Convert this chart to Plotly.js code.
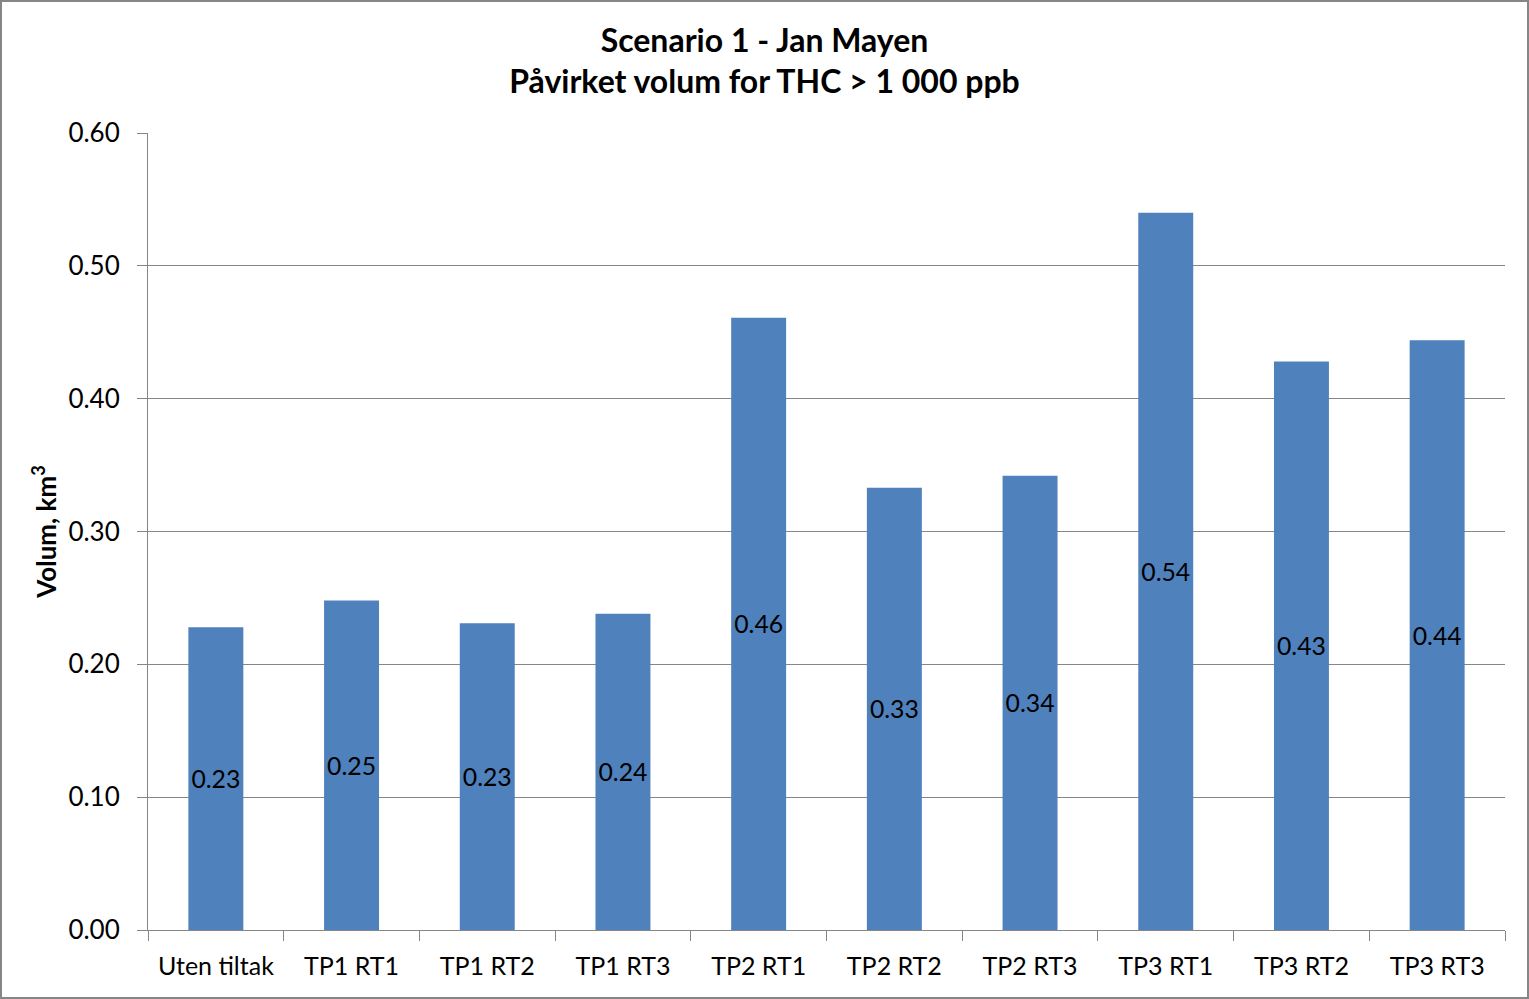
<!DOCTYPE html>
<html>
<head>
<meta charset="utf-8">
<script src="https://cdn.plot.ly/plotly-3.0.1.min.js"></script>
<style>
  body { margin: 0; background: #fff; }
  #chart { width: 1525px; height: 995px; border: 2px solid #868686; }
</style>
</head>
<body>
<div id="chart"></div>
<script>
const categories = ["Uten tiltak", "TP1 RT1", "TP1 RT2", "TP1 RT3", "TP2 RT1",
                    "TP2 RT2", "TP2 RT3", "TP3 RT1", "TP3 RT2", "TP3 RT3"];
const volumes = [0.228, 0.248, 0.231, 0.238, 0.461, 0.333, 0.342, 0.540, 0.428, 0.444];
const y_ticks = [0, 0.1, 0.2, 0.3, 0.4, 0.5, 0.6];

const font_name = "Lato, 'Open Sans', sans-serif";

Plotly.newPlot("chart", [
    {
        type: "bar",
        x: categories,
        y: volumes,
        marker: { color: "#4F81BD" },
        text: volumes.map((v) => v.toFixed(2)),
        textposition: "inside",
        insidetextanchor: "middle",
        textangle: 0,
        textfont: { family: font_name, size: 26, color: "#000" },
        hoverinfo: "none",
    },
], {
    width: 1525,
    height: 995,
    margin: { l: 146, r: 22, t: 131, b: 67 },
    paper_bgcolor: "#fff",
    plot_bgcolor: "#fff",
    showlegend: false,
    bargap: 0.595,
    title: {
        text: "<b>Scenario 1 - Jan Mayen<br>Påvirket volum for THC > 1 000 ppb</b>",
        font: { family: font_name, size: 32, color: "#000" },
        x: 0.5,
        xanchor: "center",
        y: 0.95,
        yanchor: "top",
    },
    xaxis: {
        type: "category",
        tickson: "boundaries",
        ticks: "outside",
        ticklen: 10,
        tickcolor: "#868686",
        showline: true,
        linecolor: "#868686",
        showgrid: false,
        ticklabelstandoff: 14,
        tickfont: { family: font_name, size: 25, color: "#000" },
        fixedrange: true,
    },
    yaxis: {
        range: [0, 0.6],
        tickvals: y_ticks,
        ticktext: y_ticks.map((v) => v.toFixed(2)),
        ticks: "outside",
        ticklen: 10,
        tickcolor: "#868686",
        showline: true,
        linecolor: "#868686",
        gridcolor: "#868686",
        zeroline: false,
        ticklabelstandoff: 12,
        tickfont: { family: font_name, size: 26, color: "#000" },
        title: {
            text: "<b>Volum, km<sup>3</sup></b>",
            font: { family: font_name, size: 26, color: "#000" },
            standoff: 4,
        },
        fixedrange: true,
    },
}, { staticPlot: true });
</script>
</body>
</html>
